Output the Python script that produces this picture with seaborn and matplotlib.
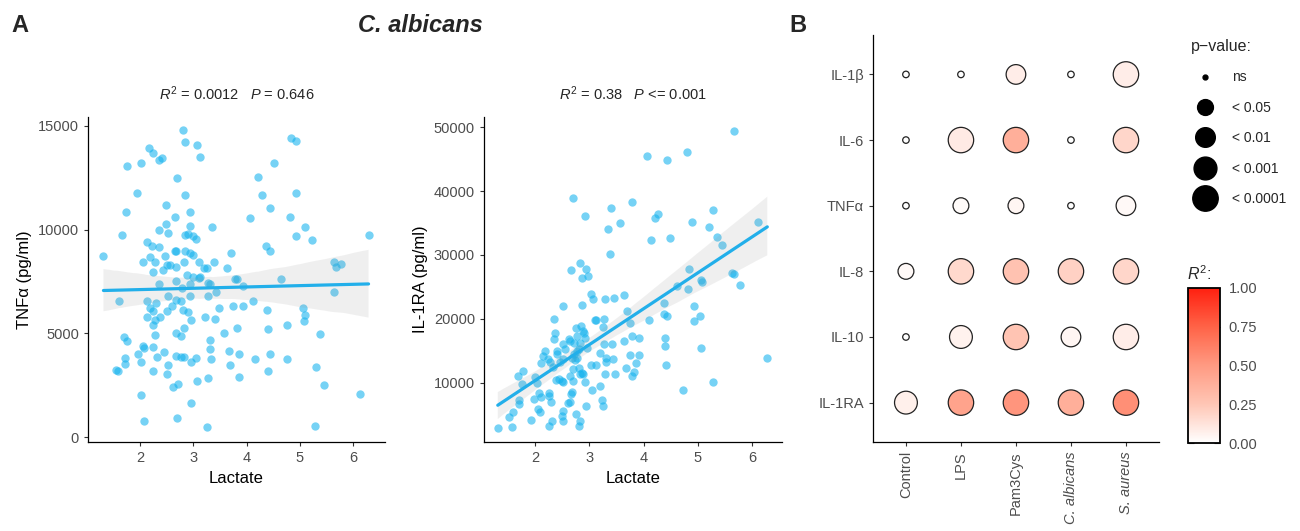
import numpy as np
import pandas as pd
import matplotlib
matplotlib.use("Agg")
import matplotlib.pyplot as plt
from matplotlib.colors import LinearSegmentedColormap, Normalize
from matplotlib.cm import ScalarMappable
from matplotlib.lines import Line2D
import seaborn as sns

# ---------------- data: panel A (TNFa vs lactate) ----------------
tnf_lactate = [1.31, 1.66, 1.75, 1.94, 2.01, 1.74, 2.17, 2.25, 2.36, 2.41, 2.49, 2.69, 2.80, 2.85,
               3.07, 3.13, 2.85, 2.65, 2.94, 2.48, 2.36, 2.53, 2.93, 3.35, 2.12, 2.22, 2.36, 2.05,
               2.19, 2.28, 2.46, 2.65, 2.68, 2.85, 2.90, 2.99, 3.04, 2.85, 2.94, 3.00, 2.83, 3.10,
               3.19, 3.25, 3.39, 2.25, 2.43, 2.51, 2.56, 2.68, 3.64, 3.70, 4.07, 4.21, 4.29, 4.44,
               4.51, 4.83, 4.93, 4.81, 4.93, 5.09, 4.93, 5.23, 4.36, 4.44, 4.65, 2.36, 2.53, 2.67,
               2.88, 2.99, 2.79, 2.93, 3.10, 3.13, 3.27, 3.31, 3.42, 3.27, 2.94, 3.79, 3.82, 3.93,
               1.60, 2.12, 2.19, 2.24, 2.30, 2.12, 2.24, 2.28, 2.37, 2.51, 2.59, 2.68, 2.76, 2.80,
               2.90, 2.96, 2.82, 2.77, 2.67, 2.28, 3.22, 3.40, 3.48, 3.75, 3.93, 4.12, 4.39, 5.06,
               5.09, 3.58, 3.81, 4.40, 4.76, 5.37, 1.70, 1.76, 1.71, 1.71, 1.54, 1.58, 1.95, 2.05,
               2.07, 2.24, 2.01, 2.25, 2.31, 2.45, 2.53, 2.51, 2.67, 2.77, 2.83, 2.95, 3.05, 3.31,
               3.31, 3.33, 3.66, 3.86, 3.69, 4.15, 4.43, 4.75, 4.40, 5.31, 5.46, 3.86, 3.27, 3.06,
               2.71, 2.61, 2.01, 2.96, 2.07, 2.69, 3.25, 5.29, 6.29, 5.64, 5.67, 5.78, 5.65, 6.12,
               5.08]
tnf_values = [8750, 9720, 13070, 11760, 13200, 10870, 13920, 13680, 13360, 13440, 11190, 12480, 14810, 14250,
              14070, 13520, 11680, 10630, 10870, 10280, 9960, 9830, 10180, 10150, 9400, 9190, 9150, 8460,
              8700, 8460, 8740, 8950, 8950, 9750, 9800, 9670, 9540, 8950, 8870, 8790, 8460, 8460,
              8140, 8140, 8460, 7980, 8060, 8300, 8300, 8220, 8140, 8870, 10550, 12560, 11680, 11030,
              13200, 14410, 14290, 10630, 11760, 10150, 9670, 9480, 9190, 8990, 7630, 7390, 6780, 7500,
              7820, 7740, 7180, 7390, 7660, 7740, 7450, 7390, 6990, 6780, 6780, 7630, 7630, 7290,
              6540, 6540, 6220, 6060, 6460, 5780, 5410, 5650, 5810, 6060, 6300, 6620, 6540, 6140,
              6020, 5650, 5250, 4850, 5010, 4930, 5810, 5690, 6220, 6300, 6300, 6580, 6140, 6220,
              5890, 5010, 5250, 5200, 5380, 4980, 4820, 4610, 3810, 3520, 3210, 3160, 4010, 4370,
              4290, 4340, 3600, 3200, 3850, 4080, 3450, 3040, 3890, 3840, 3840, 3610, 3810, 4660,
              4240, 3770, 4130, 4010, 3450, 3770, 4000, 3770, 3200, 3370, 2520, 2890, 2870, 2680,
              2570, 2410, 2010, 1640, 750, 920, 480, 510, 9740, 8460, 8220, 8350, 6980, 2060,
              5600]

# ---------------- data: panel A (IL-1RA vs lactate) ----------------
il1ra_lactate = [1.31, 1.57, 1.52, 1.60, 1.71, 1.69, 1.77, 1.75, 1.93, 1.97, 2.00, 2.03, 2.07, 2.06,
                 2.08, 2.11, 2.15, 2.18, 2.23, 2.28, 2.10, 2.25, 2.25, 2.29, 2.31, 2.25, 2.35, 2.36,
                 2.34, 2.33, 2.40, 2.45, 2.39, 2.43, 2.52, 2.51, 2.55, 2.52, 2.49, 2.52, 2.51, 2.60,
                 2.65, 2.66, 2.66, 2.69, 2.71, 2.71, 2.70, 2.65, 2.76, 2.77, 2.80, 2.78, 2.80, 2.82,
                 2.83, 2.86, 2.94, 2.97, 2.91, 2.86, 2.89, 2.92, 2.95, 2.88, 2.92, 2.76, 2.83, 2.80,
                 2.94, 3.05, 3.02, 3.06, 3.10, 3.02, 3.12, 3.20, 3.23, 3.25, 3.26, 3.25, 3.29, 3.27,
                 3.29, 3.31, 3.34, 3.38, 3.40, 3.45, 3.42, 3.43, 3.48, 3.56, 3.63, 3.64, 3.67, 3.69,
                 3.75, 3.78, 3.78, 3.75, 3.78, 3.85, 3.91, 3.92, 4.06, 4.10, 4.14, 4.20, 4.26, 4.37,
                 4.37, 4.39, 4.39, 4.41, 4.43, 4.43, 4.49, 4.62, 4.73, 4.80, 4.82, 4.84, 4.89, 4.92,
                 4.92, 5.03, 5.06, 5.06, 5.08, 5.20, 5.28, 5.35, 5.45, 5.27, 5.63, 5.66, 5.66, 5.77,
                 6.11, 6.28, 1.71, 2.51, 2.49, 2.63, 2.68, 2.65, 2.68, 2.70, 2.73, 2.77, 2.83, 2.84,
                 2.86, 2.90, 3.13, 3.19, 3.31, 2.40, 3.83]
il1ra_values = [2840, 3100, 4670, 5450, 6710, 11050, 11830, 9840, 4200, 7490, 10890, 10000, 8330, 5820,
                5400, 7750, 14180, 14970, 13770, 13300, 13140, 8430, 7910, 6970, 3980, 3200, 19940, 17840,
                16800, 12510, 14440, 13300, 10420, 10520, 22030, 16010, 15230, 13660, 10260, 5560, 3980, 6860,
                11050, 8170, 27620, 38920, 16270, 14440, 10260, 16530, 18630, 17320, 15230, 13920, 12350, 11310,
                28670, 26370, 27780, 26730, 36150, 22180, 18110, 17060, 15490, 11310, 10100, 5140, 3980, 3200,
                6340, 8800, 23860, 23070, 19830, 12770, 12770, 9480, 7230, 6340, 19940, 18730, 23070, 16010,
                11410, 13920, 34050, 30130, 37350, 23330, 16010, 13660, 11310, 34940, 23750, 16530, 12350, 21240,
                19410, 38240, 17320, 14340, 11050, 13140, 17060, 14340, 45560, 19780, 32330, 35780, 36410, 22550,
                20720, 16950, 15750, 12770, 44930, 20460, 32590, 25160, 8800, 46080, 24640, 27780, 35100, 19670,
                22030, 20460, 15490, 26050, 25690, 34310, 37090, 32750, 31600, 10100, 27150, 27000, 49480, 25320,
                35200, 13920, 7330, 10160, 4770, 16800, 8590, 6970, 13920, 12090, 13500, 14970, 16270, 18890,
                11570, 17840, 19830, 14710, 13300, 14970, 11670]

stat_labels = [r"$R^2$ = 0.0012   $P$ = 0.646", r"$R^2$ = 0.38   $P$ <= 0.001"]

# ---------------- data: panel B ----------------
cytokines = ["IL-1β", "IL-6", "TNFα", "IL-8", "IL-10", "IL-1RA"]
stimuli = ["Control", "LPS", "Pam3Cys", "C. albicans", "S. aureus"]
r2_values = [
    [0.00, 0.00, 0.08, 0.00, 0.08],   # IL-1b
    [0.00, 0.09, 0.38, 0.00, 0.18],   # IL-6
    [0.00, 0.02, 0.04, 0.0012, 0.03], # TNFa
    [0.03, 0.17, 0.27, 0.20, 0.18],   # IL-8
    [0.00, 0.06, 0.26, 0.04, 0.08],   # IL-10
    [0.07, 0.45, 0.52, 0.38, 0.55],   # IL-1RA
]
p_classes = [
    ["ns", "ns", "< 0.01", "ns", "< 0.0001"],
    ["ns", "< 0.0001", "< 0.0001", "ns", "< 0.0001"],
    ["ns", "< 0.05", "< 0.05", "ns", "< 0.01"],
    ["< 0.05", "< 0.0001", "< 0.0001", "< 0.0001", "< 0.0001"],
    ["ns", "< 0.001", "< 0.0001", "< 0.01", "< 0.0001"],
    ["< 0.001", "< 0.0001", "< 0.0001", "< 0.0001", "< 0.0001"],
]
p_levels = ["ns", "< 0.05", "< 0.01", "< 0.001", "< 0.0001"]
cbar_ticks = [0.0, 0.25, 0.5, 0.75, 1.0]

# ---------------- style ----------------
sns.set_theme(style="ticks")
plt.rcParams["font.family"] = ["Liberation Sans", "DejaVu Sans"]
plt.rcParams["mathtext.fontset"] = "custom"
plt.rcParams["mathtext.rm"] = "Liberation Sans"
plt.rcParams["mathtext.it"] = "Liberation Sans:italic"
plt.rcParams["mathtext.bf"] = "Liberation Sans:bold"

TICK_GREY = "#4D4D4D"
PT_COLOR = "#14B2EE"
LINE_COLOR = "#22AFEA"

fig = plt.figure(figsize=(13, 5.31), dpi=100)
ax1 = fig.add_axes([0.0677, 0.1676, 0.2285, 0.612])
ax2 = fig.add_axes([0.3723, 0.1676, 0.2292, 0.612])
ax3 = fig.add_axes([0.6715, 0.1676, 0.2200, 0.7664])
cax = fig.add_axes([0.9140, 0.1657, 0.0246, 0.2920])

dfA = pd.DataFrame({"Lactate": tnf_lactate, "TNF": tnf_values})
dfB = pd.DataFrame({"Lactate": il1ra_lactate, "IL1RA": il1ra_values})

for ax, df, ycol, ylabel, xlim, ylim, yticks, lab in [
    (ax1, dfA, "TNF", "TNFα (pg/ml)", (1.02, 6.6), (-240, 15430), [0, 5000, 10000, 15000], stat_labels[0]),
    (ax2, dfB, "IL1RA", "IL-1RA (pg/ml)", (1.056, 6.55), (700, 51600), [10000, 20000, 30000, 40000, 50000], stat_labels[1]),
]:
    sns.regplot(data=df, x="Lactate", y=ycol, ax=ax, ci=95, n_boot=1000, seed=1,
                scatter_kws=dict(s=36, color=PT_COLOR, alpha=0.58, linewidths=0),
                line_kws=dict(color=LINE_COLOR, lw=2.3, zorder=5))
    for coll in ax.collections:
        if coll.__class__.__name__ in ("PolyCollection", "FillBetweenPolyCollection"):
            coll.set_facecolor((0.6, 0.6, 0.6, 0.22))
            coll.set_edgecolor("none")
            coll.set_zorder(4)
    ax.set_xlim(*xlim)
    ax.set_ylim(*ylim)
    ax.set_xticks([2, 3, 4, 5, 6])
    ax.set_yticks(yticks)
    ax.set_xlabel("Lactate", fontsize=12, color="black", labelpad=4)
    ax.set_ylabel(ylabel, fontsize=12, color="black", labelpad=4)
    ax.tick_params(labelsize=10.5, labelcolor=TICK_GREY, length=3, width=0.8, color="#333333")
    for s in ["left", "bottom"]:
        ax.spines[s].set_linewidth(0.9)
        ax.spines[s].set_color("black")
    sns.despine(ax=ax)
    ax.set_title(lab, fontsize=10.5, pad=12)

# ---------------- panel B ----------------
rows = []
for i, cyt in enumerate(cytokines):
    for j, st in enumerate(stimuli):
        rows.append({"Stimulus": st, "Cytokine": cyt, "R2": r2_values[i][j], "p": p_classes[i][j]})
dfC = pd.DataFrame(rows)

cmap = LinearSegmentedColormap.from_list(
    "r2", ["#FFFFFF", "#FFC6B5", "#FF9A82", "#FF6347", "#FF2010"])
size_map = {"ns": 22, "< 0.05": 130, "< 0.01": 200, "< 0.001": 270, "< 0.0001": 335}

sns.scatterplot(data=dfC, x="Stimulus", y="Cytokine", hue="R2", size="p",
                palette=cmap, hue_norm=(0, 1), sizes=size_map, size_order=p_levels,
                edgecolor="#222222", linewidth=0.9, legend=False, ax=ax3)
ax3.set_xlim(-0.6, 4.6)
ax3.set_ylim(5.6, -0.6)
ax3.set_xlabel("")
ax3.set_ylabel("")
ax3.tick_params(labelsize=10.5, labelcolor=TICK_GREY, length=3, width=0.8, color="#333333")
ax3.tick_params(axis="x", rotation=90)
for t in ax3.get_xticklabels():
    if t.get_text() in ("C. albicans", "S. aureus"):
        t.set_fontstyle("italic")
for s in ["left", "bottom"]:
    ax3.spines[s].set_linewidth(0.9)
    ax3.spines[s].set_color("black")
sns.despine(ax=ax3)

# size legend
handles = [Line2D([], [], marker="o", linestyle="", markerfacecolor="black",
                  markeredgecolor="black", markersize=np.sqrt(size_map[k]) * (0.75 if k == "ns" else 1.0))
           for k in p_levels]
leg = fig.legend(handles, p_levels, title="p\u2212value:", loc="upper left",
                 bbox_to_anchor=(0.9115, 0.937), frameon=False, fontsize=10,
                 title_fontsize=11.5, labelspacing=1.18, handletextpad=0.85,
                 handlelength=2.15, borderaxespad=0)
leg._legend_box.align = "left"

# colorbar
sm = ScalarMappable(norm=Normalize(0, 1), cmap=cmap)
cb = fig.colorbar(sm, cax=cax, ticks=cbar_ticks)
cb.ax.set_yticklabels([f"{v:.2f}" for v in cbar_ticks])
cb.outline.set_linewidth(1.3)
cb.outline.set_edgecolor("black")
cax.tick_params(labelsize=10.5, labelcolor=TICK_GREY, length=4, width=0.8, direction="in",
                left=True, right=True, color="#333333", pad=6)
cax.set_title(r"$R^2$:", loc="left", fontsize=11.5, pad=6, x=-0.05)

# headings
fig.text(0.009, 0.952, "A", fontsize=17, fontweight="bold", va="center", ha="left")
fig.text(0.607, 0.952, "B", fontsize=17, fontweight="bold", va="center", ha="left")
fig.text(0.323, 0.952, "C. albicans", fontsize=17, fontweight="bold", fontstyle="italic",
         va="center", ha="center")

fig.savefig("out.png", dpi=100)
